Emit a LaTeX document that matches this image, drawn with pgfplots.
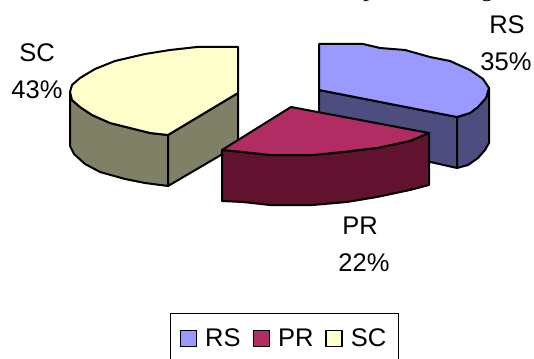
\documentclass[border=0pt]{standalone}
\usepackage{fontspec}
\setmainfont{Liberation Sans}
\newfontfamily\headserif{Liberation Serif}
\usepackage{pgfplots}
\pgfplotsset{compat=1.18}
\definecolor{rstop}{HTML}{9999FF}
\definecolor{rsside}{HTML}{4D4D80}
\definecolor{prtop}{HTML}{B02C62}
\definecolor{prside}{HTML}{60122E}
\definecolor{sctop}{HTML}{FFFFCC}
\definecolor{scside}{HTML}{808066}
\pgfplotsset{
  slice/.style={draw=black,line width=2pt,line join=round,fill=#1,forget plot,mark=none},
  swatch/.style={legend image code/.code={\draw[draw=black,line width=1.5pt,fill=#1] (0pt,-8pt) rectangle (16pt,8pt);}}
}
\begin{document}
\begin{tikzpicture}
\begin{axis}[
  at={(0,0)},anchor=south west,
  scale only axis,width=534pt,height=358pt,
  xmin=0,xmax=534,ymin=0,ymax=358,y dir=reverse,
  hide axis,clip=false,
  legend columns=3,
  legend cell align=left,
  legend style={
    at={(axis cs:170,312.5)},anchor=north west,
    draw=black,line width=1.2pt,fill=white,
    inner xsep=9pt,inner ysep=13.5pt,
    font=\fontsize{25.5}{27}\selectfont,
    /tikz/every even column/.append style={column sep=9pt},
    /tikz/every odd column/.append style={column sep=5pt},
    nodes={inner xsep=3pt,inner ysep=2pt}
  }
]
% SC slice: outer wall, cut wall, top face
\addplot[slice=scside] coordinates {(70,92) (70,146) (74,154) (85,164) (100,172) (125,179) (145,183) (168,186) (168,135) (150,133) (130,128) (110,123) (92,115) (80,107) (72,100)} --cycle;
\addplot[slice=scside] coordinates {(168,135) (168,186) (238,145) (238,93)} --cycle;
\addplot[slice=sctop] coordinates {(238,47) (197,47) (170,50) (145,54) (115,61) (95,69) (80,78) (72,85) (70,92) (72,100) (80,107) (92,115) (110,123) (130,128) (150,133) (168,135) (238,93)} --cycle;
% RS slice: cut wall, outer wall, top face
\addplot[slice=rsside] coordinates {(319,90) (319,137) (457,168) (457,117)} --cycle;
\addplot[slice=rsside] coordinates {(457,117) (457,168) (468,165) (478,158) (485,150) (489,143) (489,88) (486,98) (478,107) (470,113)} --cycle;
\addplot[slice=rstop] coordinates {(319,44) (363,44) (380,48) (405,50) (430,57) (450,61) (470,70) (483,79) (489,88) (486,98) (478,107) (470,113) (457,117) (319,90)} --cycle;
% PR slice: outer wall, top face
\addplot[slice=prside] coordinates {(222,150) (222,201) (243,202) (270,205) (313,205) (347,202) (377,197) (410,190) (429,185) (429,133) (410,141) (377,148) (343,152) (313,155) (270,155) (243,152)} --cycle;
\addplot[slice=prtop] coordinates {(291,107) (429,133) (410,141) (377,148) (343,152) (313,155) (270,155) (243,152) (222,150)} --cycle;
% Legend
\addlegendimage{swatch=rstop}
\addlegendentry{RS}
\addlegendimage{swatch=prtop}
\addlegendentry{PR}
\addlegendimage{swatch=sctop}
\addlegendentry{SC}
% Slice labels
\begin{scope}[every node/.style={font=\fontsize{25.5}{27}\selectfont,inner sep=0pt,anchor=center}]
\node at (axis cs:37,53) {SC};
\node at (axis cs:37,90) {43\%};
\node at (axis cs:507,25) {RS};
\node at (axis cs:506,62) {35\%};
\node at (axis cs:360,226) {PR};
\node at (axis cs:364,263) {22\%};
\end{scope}
% Descenders of the running text above the chart
\node[anchor=base,inner sep=0pt,font=\headserif\fontsize{24}{26}\selectfont] at (axis cs:369,-3) {p};
\node[anchor=base,inner sep=0pt,font=\headserif\fontsize{24}{26}\selectfont] at (axis cs:487,-3) {g};
\end{axis}
\pgfresetboundingbox
\path[use as bounding box] (0,0) rectangle (534pt,358pt);
\end{tikzpicture}
\end{document}
